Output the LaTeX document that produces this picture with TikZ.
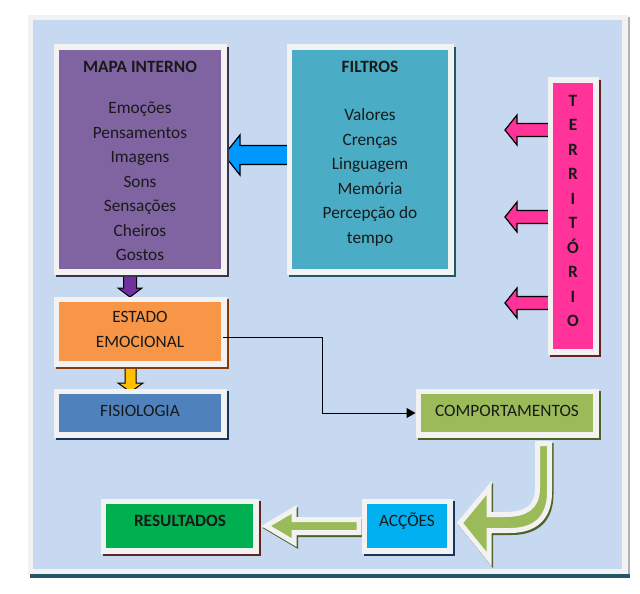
\documentclass[tikz,border=0pt]{standalone}
\usepackage{fontspec}
\setmainfont{Carlito}
\usetikzlibrary{arrows.meta,calc}
\definecolor{bgblue}{HTML}{C6D9F1}
\definecolor{framegray}{HTML}{F2F2F2}
\definecolor{cmapa}{HTML}{8064A2}
\definecolor{cfilt}{HTML}{4BACC6}
\definecolor{cterr}{HTML}{FF3399}
\definecolor{cestado}{HTML}{F79646}
\definecolor{cfisio}{HTML}{4F81BD}
\definecolor{ccomp}{HTML}{9BBB59}
\definecolor{cres}{HTML}{00B050}
\definecolor{cacc}{HTML}{00B0F0}
\definecolor{cbluearr}{HTML}{0099FF}
\definecolor{cpurarr}{HTML}{7030A0}
\definecolor{cyelarr}{HTML}{FFC000}
\definecolor{shpurple}{HTML}{3F3151}
\definecolor{shteal}{HTML}{205867}
\definecolor{shred}{HTML}{632423}
\definecolor{shbrown}{HTML}{843C0C}
\definecolor{shnavy}{HTML}{17365D}
\definecolor{sholive}{HTML}{4F6228}
\definecolor{bottomline}{HTML}{215868}
\pgfdeclarelayer{back}
\pgfdeclarelayer{arr}
\pgfdeclarelayer{deco}
\pgfsetlayers{back,arr,deco,main}
\newcommand\fs{\fontsize{17.3}{24.5}\selectfont}
\newcommand\myframedbox[2]{%
  \begin{pgfonlayer}{deco}
    \fill[#2] ([shift={(-3.5,-3)}]#1.north west) rectangle ([shift={(7.5,8)}]#1.south east);
    \fill[framegray] ([shift={(-5.5,-5.5)}]#1.north west) rectangle ([shift={(5.5,5.5)}]#1.south east);
  \end{pgfonlayer}}
\tikzset{
  box/.style={rectangle, inner sep=0pt, outer sep=0pt},
  lbl/.style={inner sep=0pt, text=black!90, font=\fs, align=center},
  blockarr/.style={draw=black, line width=1.2pt, line join=miter},
  greenarr/.style={fill=ccomp, draw=framegray, line width=5pt, line join=miter},
  greenshadow/.style={fill=sholive, draw=sholive, line width=5pt, line join=miter},
  conn/.style={draw=black, line width=1pt, -{Triangle[length=9pt,width=10pt]}}
}
\begin{document}
\begin{tikzpicture}[x=1pt,y=-1pt]
\useasboundingbox (0,0) rectangle (640,594);
\begin{pgfonlayer}{back}
  \fill[white] (0,0) rectangle (640,594);
  \fill[gray!60] (627,17) rectangle (629.5,577);
  \fill[framegray] (28,15) rectangle (627.5,575);
  \fill[bottomline] (30,574) rectangle (629.5,577.5);
  \fill[bgblue] (33,20) rectangle (622,568.5);
\end{pgfonlayer}

% boxes
\node[box, fill=cmapa, minimum width=162pt, minimum height=219pt] (mapa) at (140,159.5) {};
\node[box, fill=cfilt, minimum width=156pt, minimum height=219pt] (filt) at (370,159.5) {};
\node[box, fill=cterr, minimum width=40pt, minimum height=266pt] (terr) at (573,216) {};
\node[box, fill=cestado, minimum width=162pt, minimum height=59pt] (estado) at (140,331.5) {};
\node[box, fill=cfisio, minimum width=162pt, minimum height=38pt] (fisio) at (140,413) {};
\node[box, fill=ccomp, minimum width=172pt, minimum height=38pt] (comp) at (507,413) {};
\node[box, fill=cres, minimum width=147pt, minimum height=44pt] (res) at (179.5,526) {};
\node[box, fill=cacc, minimum width=80pt, minimum height=44pt] (acc) at (407,526) {};

\myframedbox{mapa}{shpurple}
\myframedbox{filt}{shteal}
\myframedbox{terr}{shred}
\myframedbox{estado}{shbrown}
\myframedbox{fisio}{shnavy}
\myframedbox{comp}{sholive}
\myframedbox{res}{shred}
\myframedbox{acc}{shnavy}

% texts
\node[lbl] (mapaT) at (140,67) {\bfseries MAPA INTERNO};
\node[lbl] (mapaL) at (140,181.5) {Emoções\\Pensamentos\\Imagens\\Sons\\Sensações\\Cheiros\\Gostos};
\node[lbl] (filtT) at (370,67) {\bfseries FILTROS};
\node[lbl] (filtL) at (370,177.5) {Valores\\Crenças\\Linguagem\\Memória\\Percepção do\\tempo};
\node[lbl, font=\fs\bfseries] (terrL) at (573,211) {T\\E\\R\\R\\I\\T\\Ó\\R\\I\\O};
\node[lbl] (estadoL) at (140,329.5) {ESTADO\\EMOCIONAL};
\node[lbl] (fisioL) at (140,411) {FISIOLOGIA};
\node[lbl] (compL) at (507,411) {COMPORTAMENTOS};
\node[lbl] (resL) at (180,521) {\bfseries RESULTADOS};
\node[lbl] (accL) at (407,521) {ACÇÕES};

% block arrows
\begin{pgfonlayer}{arr}
  \foreach \yy in {130,217,303}{
    \draw[blockarr, fill=cterr] (551,\yy-6.5) -- (517,\yy-6.5) -- (517,\yy-15) -- (505,\yy) -- (517,\yy+15) -- (517,\yy+6.5) -- (551,\yy+6.5) -- cycle;
  }
  \draw[blockarr, fill=cbluearr] (288,145.5) -- (240,145.5) -- (240,135) -- (224,155) -- (240,175) -- (240,164.5) -- (288,164.5) -- cycle;
  \draw[blockarr, line width=1pt, fill=cpurarr] (123.5,274) -- (136.5,274) -- (136.5,288) -- (142,288) -- (130,297) -- (118,288) -- (123.5,288) -- cycle;
  \draw[blockarr, line width=1pt, fill=cyelarr] (125,364) -- (136,364) -- (136,383) -- (143,383) -- (130.5,392) -- (118,383) -- (125,383) -- cycle;
  % green straight arrow
  \begin{scope}[shift={(1.5,2)}]
    \draw[greenshadow] (359,519.5) -- (294,519.5) -- (294,509.5) -- (266,526) -- (294,542.5) -- (294,532.5) -- (359,532.5) -- cycle;
  \end{scope}
  \draw[greenarr] (359,519.5) -- (294,519.5) -- (294,509.5) -- (266,526) -- (294,542.5) -- (294,532.5) -- (359,532.5) -- cycle;
  % green U-turn arrow
  \begin{scope}[shift={(1.5,2)}]
    \draw[greenshadow] (537.5,443.5) -- (549.5,443.5) -- (549.5,492) .. controls (549.5,518) and (535,530.5) .. (510,530.5) -- (489,530.5) -- (489,559) -- (460,523) -- (489,488) -- (489,514.5) -- (505,514.5) .. controls (525,514.5) and (537.5,508) .. (537.5,488) -- cycle;
  \end{scope}
  \draw[greenarr] (537.5,443.5) -- (549.5,443.5) -- (549.5,492) .. controls (549.5,518) and (535,530.5) .. (510,530.5) -- (489,530.5) -- (489,559) -- (460,523) -- (489,488) -- (489,514.5) -- (505,514.5) .. controls (525,514.5) and (537.5,508) .. (537.5,488) -- cycle;
\end{pgfonlayer}

% connector
\draw[conn] ([xshift=2pt,yshift=-5.5pt]estado.east) -- (322,337) |- ([xshift=-5.5pt]comp.west);
\end{tikzpicture}
\end{document}
